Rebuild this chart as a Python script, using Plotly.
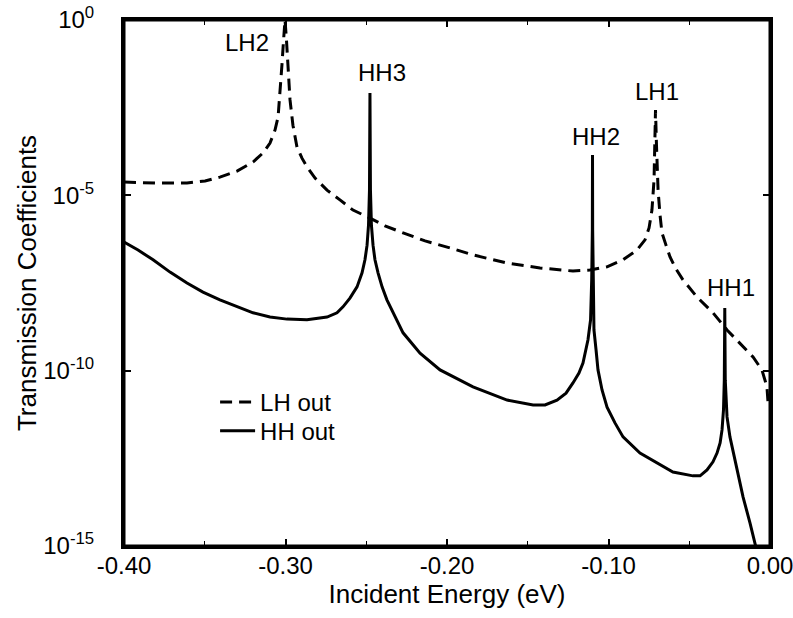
import plotly.graph_objects as go

# Incident energy (eV) and transmission coefficient, LH out (dashed)
lh_energy = [-0.4000, -0.3808, -0.3610, -0.3498, -0.3406, -0.3300, -0.3201, -0.3139, -0.3096,
             -0.3065, -0.3046, -0.3034, -0.3022, -0.3012, -0.3003, -0.2994, -0.2985, -0.2972,
             -0.2954, -0.2929, -0.2898, -0.2867, -0.2817, -0.2743, -0.2663, -0.2582, -0.2477,
             -0.2384, -0.2272, -0.2136, -0.1981, -0.1839, -0.1628, -0.1424, -0.1220, -0.1115,
             -0.1009, -0.0910, -0.0824, -0.0774, -0.0749, -0.0731, -0.0718, -0.0712, -0.0709,
             -0.0703, -0.0693, -0.0681, -0.0669, -0.0644, -0.0619, -0.0582, -0.0539, -0.0452,
             -0.0353, -0.0266, -0.0186, -0.0105, -0.0050, -0.0019, -0.0012]
lh_trans = [2.40e-5, 2.24e-5, 2.24e-5, 2.57e-5, 3.31e-5, 4.90e-5, 8.91e-5, 1.62e-4, 3.09e-4,
            7.24e-4, 1.70e-3, 7.24e-3, 5.25e-2, 2.69e-1, 1.0e0, 2.69e-1, 5.25e-2, 5.25e-3,
            1.0e-3, 2.40e-4, 1.15e-4, 6.46e-5, 3.09e-5, 1.41e-5, 7.41e-6, 3.80e-6, 2.24e-6,
            1.35e-6, 8.51e-7, 5.01e-7, 3.16e-7, 2.00e-7, 1.17e-7, 8.51e-8, 6.92e-8, 7.41e-8,
            9.12e-8, 1.45e-7, 2.75e-7, 5.37e-7, 1.17e-6, 3.80e-6, 2.75e-5, 3.80e-4, 2.69e-3,
            2.75e-4, 1.41e-5, 2.75e-6, 8.51e-7, 3.80e-7, 1.74e-7, 7.94e-8, 3.89e-8, 1.26e-8,
            4.47e-9, 1.45e-9, 6.17e-10, 2.45e-10, 1.05e-10, 3.47e-11, 1.20e-11]

# HH out (solid)
hh_energy = [-0.4000, -0.3913, -0.3820, -0.3715, -0.3610, -0.3511, -0.3406, -0.3300, -0.3201,
             -0.3096, -0.2991, -0.2867, -0.2743, -0.2681, -0.2644, -0.2601, -0.2557, -0.2526,
             -0.2508, -0.2495, -0.2486, -0.2480, -0.2477, -0.2474, -0.2468, -0.2458, -0.2446,
             -0.2427, -0.2402, -0.2372, -0.2328, -0.2272, -0.2167, -0.2043, -0.1839, -0.1628,
             -0.1467, -0.1393, -0.1319, -0.1263, -0.1220, -0.1183, -0.1158, -0.1127, -0.1111,
             -0.1104, -0.1100, -0.1099, -0.1098, -0.1094, -0.1090, -0.1077, -0.1065, -0.1040,
             -0.1009, -0.0960, -0.0910, -0.0805, -0.0700, -0.0601, -0.0477, -0.0433, -0.0390,
             -0.0353, -0.0328, -0.0309, -0.0297, -0.0288, -0.0283, -0.0280, -0.0277, -0.0272,
             -0.0266, -0.0248, -0.0204, -0.0167, -0.0124, -0.0093, -0.0080]
hh_trans = [4.68e-7, 2.75e-7, 1.45e-7, 6.46e-8, 3.16e-8, 1.74e-8, 1.05e-8, 6.61e-9, 4.47e-9,
            3.39e-9, 2.95e-9, 2.82e-9, 3.39e-9, 4.47e-9, 6.61e-9, 1.17e-8, 2.45e-8, 6.17e-8,
            1.45e-7, 3.80e-7, 1.41e-6, 1.41e-5, 8.32e-3, 1.41e-5, 1.41e-6, 3.80e-7, 1.45e-7,
            6.17e-8, 2.45e-8, 1.05e-8, 3.89e-9, 1.20e-9, 3.16e-10, 1.05e-10, 3.47e-11, 1.45e-11,
            1.05e-11, 1.05e-11, 1.45e-11, 2.29e-11, 4.47e-11, 8.51e-11, 1.66e-10, 7.59e-10, 2.82e-9,
            3.89e-8, 1.02e-6, 1.41e-4, 1.02e-6, 3.89e-8, 1.45e-9, 3.89e-10, 1.05e-10, 2.82e-11,
            9.12e-12, 3.24e-12, 1.29e-12, 4.47e-13, 2.34e-13, 1.29e-13, 1.0e-13, 1.0e-13, 1.48e-13,
            2.51e-13, 4.47e-13, 8.71e-13, 2.04e-12, 7.59e-12, 5.37e-11, 6.17e-9, 5.37e-11, 1.05e-11,
            4.79e-12, 1.29e-12, 1.48e-13, 2.51e-14, 4.57e-15, 1.32e-15, 6.76e-16]

# Peak labels
peak_names = ["LH2", "HH3", "HH2", "LH1", "HH1"]
peak_label_x = [-0.3238, -0.2402, -0.1077, -0.0700, -0.0241]
peak_label_logy = [-0.64, -1.51, -3.31, -2.05, -7.64]

x_tick_vals = [-0.40, -0.30, -0.20, -0.10, 0.00]
x_tick_text = ["-0.40", "-0.30", "-0.20", "-0.10", "0.00"]
y_tick_vals = [1e0, 1e-5, 1e-10, 1e-15]
y_tick_text = ["10<sup>0</sup>", "10<sup>-5</sup>", "10<sup>-10</sup>", "10<sup>-15</sup>"]

FONT = "Liberation Sans, Arial, Helvetica, sans-serif"

fig = go.Figure()
fig.add_trace(go.Scatter(x=lh_energy, y=lh_trans, mode="lines", name="LH out", legend="legend",
                         line=dict(color="black", width=3, dash="12px,7px")))
fig.add_trace(go.Scatter(x=hh_energy, y=hh_trans, mode="lines", name="HH out", legend="legend2",
                         line=dict(color="black", width=3)))

for name, px, py in zip(peak_names, peak_label_x, peak_label_logy):
    fig.add_annotation(x=px, y=py, text=name, showarrow=False,
                       font=dict(family=FONT, size=24, color="black"))

# frame around the plotting area
fig.add_shape(type="rect", xref="paper", yref="paper", x0=0, x1=1, y0=0, y1=1,
              line=dict(color="black", width=3), layer="above")

leg_common = dict(xanchor="left", yanchor="top", itemwidth=35,
                  font=dict(family=FONT, size=24, color="black"),
                  bgcolor="rgba(0,0,0,0)")
fig.update_layout(
    width=793, height=618,
    margin=dict(l=124, r=23, t=20, b=72),
    paper_bgcolor="white", plot_bgcolor="white",
    font=dict(family=FONT, color="black"),
    showlegend=True,
    legend=dict(x=0.141, y=0.316, **leg_common),
    legend2=dict(x=0.141, y=0.261, **leg_common),
)
fig.update_xaxes(
    range=[-0.40, 0.00], showgrid=False, zeroline=False, automargin=False,
    showline=True, linecolor="black", linewidth=3, mirror="ticks",
    ticks="inside", ticklen=7, tickwidth=1.5, tickcolor="black",
    tickvals=x_tick_vals, ticktext=x_tick_text, ticklabeloverflow="allow",
    ticklabelstandoff=-4,
    tickfont=dict(family=FONT, size=24, color="black"),
    minor=dict(dtick=0.05, tick0=0, ticks="inside", ticklen=5, tickwidth=1, tickcolor="black"),
    title=dict(text="Incident Energy (eV)", font=dict(family=FONT, size=26, color="black"), standoff=2),
)
fig.update_yaxes(
    type="log", range=[-15, 0], showgrid=False, zeroline=False, automargin=False,
    showline=True, linecolor="black", linewidth=3, mirror="ticks",
    ticks="inside", ticklen=7, tickwidth=1.5, tickcolor="black",
    tickvals=y_tick_vals, ticktext=y_tick_text, ticklabelstandoff=22,
    ticklabeloverflow="allow",
    tickfont=dict(family=FONT, size=24, color="black"),
    title=dict(text="Transmission Coefficients", font=dict(family=FONT, size=26, color="black"), standoff=0),
)

fig.write_html("out.html")
